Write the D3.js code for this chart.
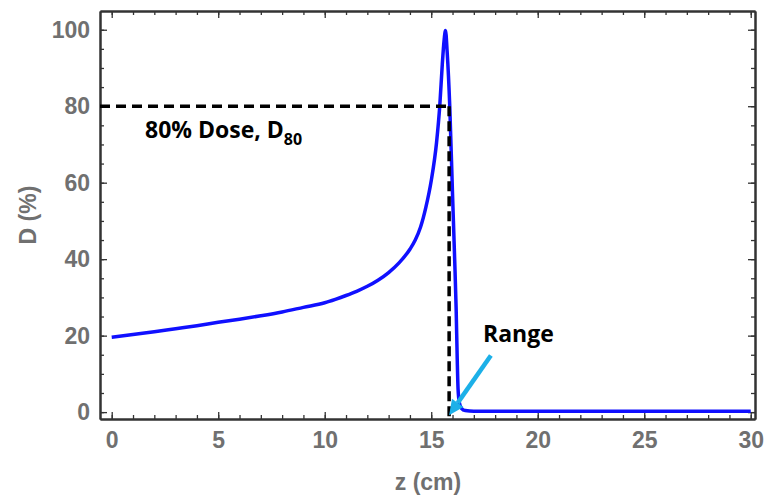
<!DOCTYPE html>
<meta charset="utf-8">
<script src="https://d3js.org/d3.v7.min.js"></script>
<style>
  body { margin: 0; background: #fff; }
  .tick text { font-family: "Liberation Sans", Arial, sans-serif; font-weight: bold; font-size: 23px; fill: #707070; }
  .note { font-family: "Open Sans", sans-serif; font-weight: bold; fill: #000; }
</style>
<div id="chart"></div>
<script>

    // depth (cm) and relative dose (%)
    var depth = [0, 1, 2, 3, 4, 5, 6, 7, 8, 9, 10, 10.5, 11, 11.5, 12, 12.5, 13, 13.5, 14, 14.25, 14.5, 14.75, 15.0, 15.25, 15.4,
                 15.52, 15.6, 15.67, 15.75, 15.87, 16.0, 16.1, 16.17, 16.22, 16.26, 16.32, 16.42, 16.6, 17, 20, 25, 30];
    var dose = [19.6, 20.3, 21.0, 21.8, 22.6, 23.5, 24.3, 25.2, 26.2, 27.4, 28.6, 29.5, 30.5, 31.6, 32.9, 34.5, 36.5, 39.1, 42.6, 45.0, 48.4, 53.6, 60.5, 70.5, 80,
                91, 97, 99.8, 94, 80, 57, 40, 27, 14, 6, 2.5, 1.0, 0.4, 0.2, 0.2, 0.2, 0.2];

    var xTicks = [0, 5, 10, 15, 20, 25, 30];
    var yTicks = [0, 20, 40, 60, 80, 100];

    // annotation values
    var d80 = 80;          // 80% dose level
    var rangeZ = 15.84;    // depth where the distal dose falls to 80%

    var width = 766, height = 497;

    var svg = d3.select("#chart")
        .append("svg")
        .attr("width", width)
        .attr("height", height);

    // scales (domain padded like the original frame)
    var x = d3.scaleLinear().domain([-0.55, 30.2]).range([100, 755]);
    var y = d3.scaleLinear().domain([-1.8, 104.9]).range([419, 11]);

    var minorX = d3.range(0, 31, 1);
    var minorY = d3.range(0, 101, 5);

    function styleAxis(g) {
        g.select(".domain").attr("stroke", "#333").attr("stroke-width", 2);
        g.selectAll(".tick line").attr("stroke", "#333").attr("stroke-width", 1.3);
    }

    // minor ticks first
    svg.append("g").attr("transform", "translate(0,419)")
        .call(d3.axisBottom(x).tickValues(minorX).tickSizeInner(-4).tickSizeOuter(0).tickFormat(""))
        .call(styleAxis);
    svg.append("g").attr("transform", "translate(0,11)")
        .call(d3.axisTop(x).tickValues(minorX).tickSizeInner(-4).tickSizeOuter(0).tickFormat(""))
        .call(styleAxis);
    svg.append("g").attr("transform", "translate(100,0)")
        .call(d3.axisLeft(y).tickValues(minorY).tickSizeInner(-4).tickSizeOuter(0).tickFormat(""))
        .call(styleAxis);
    svg.append("g").attr("transform", "translate(755,0)")
        .call(d3.axisRight(y).tickValues(minorY).tickSizeInner(-4).tickSizeOuter(0).tickFormat(""))
        .call(styleAxis);

    // major ticks with labels
    svg.append("g").attr("transform", "translate(0,419)")
        .call(d3.axisBottom(x).tickValues(xTicks).tickSizeInner(-7).tickSizeOuter(0).tickPadding(13))
        .call(styleAxis);
    svg.append("g").attr("transform", "translate(0,11)")
        .call(d3.axisTop(x).tickValues(xTicks).tickSizeInner(-7).tickSizeOuter(0).tickFormat(""))
        .call(styleAxis);
    svg.append("g").attr("transform", "translate(100,0)")
        .call(d3.axisLeft(y).tickValues(yTicks).tickSizeInner(-7).tickSizeOuter(0).tickPadding(10))
        .call(styleAxis);
    svg.append("g").attr("transform", "translate(755,0)")
        .call(d3.axisRight(y).tickValues(yTicks).tickSizeInner(-7).tickSizeOuter(0).tickFormat(""))
        .call(styleAxis);

    // axis titles
    svg.append("text")
        .attr("transform", "translate(36,215) rotate(-90)")
        .attr("text-anchor", "middle")
        .style("font-family", "Liberation Sans, Arial, sans-serif")
        .style("font-weight", "bold")
        .style("font-size", "23px")
        .style("fill", "#707070")
        .text("D (%)");
    svg.append("text")
        .attr("x", 428).attr("y", 490)
        .attr("text-anchor", "middle")
        .style("font-family", "Liberation Sans, Arial, sans-serif")
        .style("font-weight", "bold")
        .style("font-size", "23px")
        .style("fill", "#707070")
        .text("z (cm)");

    // dose curve
    var line = d3.line()
        .x(function (d, i) { return x(depth[i]); })
        .y(function (d) { return y(d); })
        .curve(d3.curveMonotoneX);
    svg.append("path")
        .datum(dose)
        .attr("d", line)
        .attr("fill", "none")
        .attr("stroke", "#1010ff")
        .attr("stroke-width", 3.5)
        .attr("stroke-linejoin", "round");

    // dashed guide lines
    svg.append("line")
        .attr("x1", x(-0.55)).attr("y1", y(d80))
        .attr("x2", x(rangeZ) + 2).attr("y2", y(d80))
        .attr("stroke", "#000").attr("stroke-width", 3.5)
        .attr("stroke-dasharray", "10,6");
    svg.append("line")
        .attr("x1", x(rangeZ)).attr("y1", y(d80))
        .attr("x2", x(rangeZ)).attr("y2", y(-1.8))
        .attr("stroke", "#000").attr("stroke-width", 3.5)
        .attr("stroke-dasharray", "10,5");

    // labels
    var lab = svg.append("text").attr("class", "note")
        .attr("x", 145).attr("y", 138)
        .style("font-size", "23px");
    lab.append("tspan").text("80% Dose, D");
    lab.append("tspan").attr("dy", 7).style("font-size", "16px").text("80");

    svg.append("text").attr("class", "note")
        .attr("x", 483).attr("y", 342)
        .style("font-size", "23px")
        .text("Range");

    // cyan arrow pointing to the range
    var ax0 = x(17.8), ay0 = y(14.8), ax1 = x(rangeZ), ay1 = y(-0.8);
    var ang = Math.atan2(ay1 - ay0, ax1 - ax0), hl = 15, hw = 7;
    var bx = ax1 - hl * Math.cos(ang), by = ay1 - hl * Math.sin(ang);
    svg.append("line")
        .attr("x1", ax0).attr("y1", ay0).attr("x2", bx).attr("y2", by)
        .attr("stroke", "#1cb0e8").attr("stroke-width", 4.5);
    svg.append("path")
        .attr("d", "M" + ax1 + "," + ay1 +
            "L" + (bx + hw * Math.sin(ang)) + "," + (by - hw * Math.cos(ang)) +
            "L" + (bx - hw * Math.sin(ang)) + "," + (by + hw * Math.cos(ang)) + "Z")
        .attr("fill", "#1cb0e8");

</script>
